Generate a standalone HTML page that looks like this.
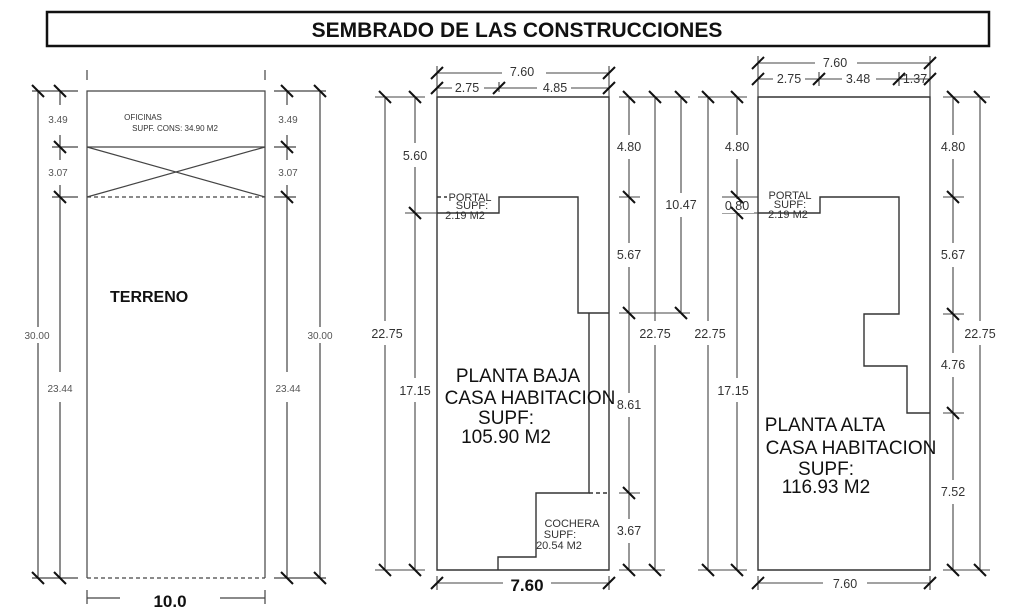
<!DOCTYPE html>
<html><head><meta charset="utf-8"><style>
html,body{margin:0;padding:0;background:#fff;width:1020px;height:611px;overflow:hidden}
svg{display:block}
text{font-family:"Liberation Sans",Arial,sans-serif;fill:#222}
.s{font-size:10px;fill:#555}
.m{font-size:12.5px;fill:#333}
.b{font-size:19px;fill:#111}
</style></head><body>
<svg width="1020" height="611" viewBox="0 0 1020 611" xmlns="http://www.w3.org/2000/svg">
<defs>
<g id="tv"><line x1="-6" y1="-6" x2="6" y2="6" stroke="#111" stroke-width="2"/></g>
<g id="th"><line x1="-6" y1="6" x2="6" y2="-6" stroke="#111" stroke-width="2"/></g>
</defs>
<g fill="none" stroke="#333" stroke-width="1.3">
<!-- title -->
<rect x="47" y="12" width="942" height="34" stroke="#111" stroke-width="2.5"/>
</g>
<text x="517" y="37" text-anchor="middle" style="font-size:21px;font-weight:bold;fill:#111">SEMBRADO DE LAS CONSTRUCCIONES</text>

<!-- TERRENO -->
<g fill="none" stroke="#444" stroke-width="1.2">
<path d="M87,578 V91 H265 V578"/>
<path d="M87,578 H265" stroke-dasharray="4,3"/>
<path d="M87,147 H265"/>
<path d="M87,197 H265" stroke-dasharray="4,3"/>
<path d="M87,147 L265,197 M87,197 L265,147"/>
<path d="M38,91 V578 M60,91 V578 M287,91 V578 M320,91 V578"/>
<path d="M32,91 H78 M52,147 H78 M52,197 H78 M32,578 H78"/>
<path d="M274,91 H326 M274,147 H296 M274,197 H296 M274,578 H326"/>
<path d="M87,598 H265 M87,590 V604 M265,590 V604 M87,70 V80 M265,70 V80"/>
</g>
<rect x="28" y="327" width="20" height="16" fill="#fff"/><rect x="308" y="327" width="24" height="16" fill="#fff"/>
<rect x="44" y="372" width="32" height="30" fill="#fff"/><rect x="272" y="372" width="32" height="30" fill="#fff"/>
<rect x="44" y="105" width="32" height="30" fill="#fff"/><rect x="272" y="105" width="32" height="30" fill="#fff"/>
<rect x="44" y="160" width="32" height="25" fill="#fff"/><rect x="272" y="160" width="32" height="25" fill="#fff"/>
<rect x="120" y="590" width="100" height="20" fill="#fff"/>
<g>
<use href="#tv" x="38" y="91"/><use href="#tv" x="60" y="91"/><use href="#tv" x="60" y="147"/><use href="#tv" x="60" y="197"/><use href="#tv" x="38" y="578"/><use href="#tv" x="60" y="578"/>
<use href="#tv" x="287" y="91"/><use href="#tv" x="320" y="91"/><use href="#tv" x="287" y="147"/><use href="#tv" x="287" y="197"/><use href="#tv" x="287" y="578"/><use href="#tv" x="320" y="578"/>
</g>
<text class="s" x="58" y="123" text-anchor="middle">3.49</text>
<text class="s" x="58" y="176" text-anchor="middle">3.07</text>
<text class="s" x="60" y="392" text-anchor="middle">23.44</text>
<text class="s" x="37" y="339" text-anchor="middle">30.00</text>
<text class="s" x="288" y="123" text-anchor="middle">3.49</text>
<text class="s" x="288" y="176" text-anchor="middle">3.07</text>
<text class="s" x="288" y="392" text-anchor="middle">23.44</text>
<text class="s" x="320" y="339" text-anchor="middle">30.00</text>
<text x="143" y="120" text-anchor="middle" style="font-size:8px;fill:#333">OFICINAS</text>
<text x="175" y="131" text-anchor="middle" style="font-size:8px;fill:#333">SUPF. CONS: 34.90 M2</text>
<text x="110" y="302" style="font-size:16px;font-weight:bold;fill:#111">TERRENO</text>
<text x="170" y="607" text-anchor="middle" style="font-size:17px;font-weight:bold;fill:#111">10.0</text>

<!-- PLANTA BAJA -->
<g fill="none" stroke="#333" stroke-width="1.4">
<path d="M437,570 V97 H609 V570 Z"/>
<path d="M437,213 H499 V197 H578 V313 H609 M589,313 V493 H536 V557 H498 V570"/>
<path d="M589,493 H609" stroke-dasharray="4,3"/>
<path d="M437,197 H447" stroke-dasharray="4,3"/>
</g>
<g fill="none" stroke="#444" stroke-width="1.1">
<path d="M385,97 V570 M415,97 V570 M629,97 V570 M655,97 V570 M681,97 V313"/>
<path d="M375,97 H425 M405,213 H437 M375,570 H425"/>
<path d="M619,97 H690 M619,197 H640 M619,313 H690 M619,493 H640 M619,570 H665"/>
<path d="M437,73 H609 M437,88 H609 M437,66 V97 M609,66 V97 M499,82 V92"/>
<path d="M437,583 H609 M437,576 V590 M609,576 V590"/>
</g>
<rect x="398" y="143" width="34" height="24" fill="#fff"/><rect x="398" y="378" width="34" height="24" fill="#fff"/>
<rect x="369" y="321" width="36" height="24" fill="#fff"/>
<rect x="612" y="135" width="34" height="24" fill="#fff"/><rect x="612" y="243" width="34" height="24" fill="#fff"/>
<rect x="612" y="393" width="34" height="24" fill="#fff"/><rect x="612" y="519" width="34" height="24" fill="#fff"/>
<rect x="636" y="321" width="38" height="24" fill="#fff"/><rect x="662" y="193" width="38" height="24" fill="#fff"/>
<rect x="502" y="64" width="44" height="16" fill="#fff"/><rect x="452" y="80" width="32" height="16" fill="#fff"/><rect x="537" y="80" width="34" height="16" fill="#fff"/>
<rect x="503" y="574" width="48" height="20" fill="#fff"/>
<g>
<use href="#tv" x="385" y="97"/><use href="#tv" x="415" y="97"/><use href="#tv" x="415" y="213"/><use href="#tv" x="385" y="570"/><use href="#tv" x="415" y="570"/>
<use href="#tv" x="629" y="97"/><use href="#tv" x="655" y="97"/><use href="#tv" x="681" y="97"/><use href="#tv" x="629" y="197"/><use href="#tv" x="629" y="313"/><use href="#tv" x="681" y="313"/><use href="#tv" x="629" y="493"/><use href="#tv" x="629" y="570"/><use href="#tv" x="655" y="570"/>
<use href="#th" x="437" y="73"/><use href="#th" x="609" y="73"/><use href="#th" x="437" y="88"/><use href="#th" x="499" y="88"/><use href="#th" x="609" y="88"/>
<use href="#th" x="437" y="583"/><use href="#th" x="609" y="583"/>
</g>
<text class="m" x="415" y="160" text-anchor="middle">5.60</text>
<text class="m" x="415" y="395" text-anchor="middle">17.15</text>
<text class="m" x="387" y="338" text-anchor="middle">22.75</text>
<text class="m" x="629" y="151" text-anchor="middle">4.80</text>
<text class="m" x="629" y="259" text-anchor="middle">5.67</text>
<text class="m" x="629" y="409" text-anchor="middle">8.61</text>
<text class="m" x="629" y="535" text-anchor="middle">3.67</text>
<text class="m" x="655" y="338" text-anchor="middle">22.75</text>
<text class="m" x="681" y="209" text-anchor="middle">10.47</text>
<text class="m" x="522" y="76" text-anchor="middle">7.60</text>
<text class="m" x="467" y="92" text-anchor="middle">2.75</text>
<text class="m" x="555" y="92" text-anchor="middle">4.85</text>
<text x="527" y="591" text-anchor="middle" style="font-size:17px;font-weight:bold;fill:#111">7.60</text>
<text x="470" y="201" text-anchor="middle" style="font-size:11px;fill:#333">PORTAL</text>
<text x="472" y="209" text-anchor="middle" style="font-size:11px;fill:#333">SUPF:</text>
<text x="465" y="219" text-anchor="middle" style="font-size:11px;fill:#333">2.19 M2</text>
<text x="572" y="527" text-anchor="middle" style="font-size:11px;fill:#333">COCHERA</text>
<text x="560" y="538" text-anchor="middle" style="font-size:11px;fill:#333">SUPF:</text>
<text x="559" y="549" text-anchor="middle" style="font-size:11px;fill:#333">20.54 M2</text>
<text class="b" x="518" y="382" text-anchor="middle">PLANTA BAJA</text>
<text class="b" x="530" y="404" text-anchor="middle">CASA HABITACION</text>
<text class="b" x="506" y="424" text-anchor="middle">SUPF:</text>
<text class="b" x="506" y="443" text-anchor="middle">105.90 M2</text>

<!-- PLANTA ALTA -->
<g fill="none" stroke="#333" stroke-width="1.4">
<path d="M758,570 V97 H930 V570 Z"/>
<path d="M758,213 H820 V197 H899 V314 H864 V366 H907 V413 H930"/>
</g>
<g fill="none" stroke="#444" stroke-width="1.1">
<path d="M708,97 V570 M737,97 V570 M953,97 V570 M980,97 V570"/>
<path d="M698,97 H747 M722,197 H758 M722,213 H758 M698,570 H747"/>
<path d="M943,97 H990 M943,197 H964 M943,314 H964 M943,413 H964 M943,570 H990"/>
<path d="M758,63 H930 M758,79 H930 M758,56 V97 M930,56 V97 M819,72 V86 M899,72 V86"/>
<path d="M758,583 H930 M758,576 V590 M930,576 V590"/>
</g>
<rect x="691" y="321" width="36" height="24" fill="#fff"/>
<rect x="720" y="135" width="34" height="24" fill="#fff"/><rect x="720" y="199" width="34" height="14" fill="#fff"/><rect x="716" y="378" width="36" height="24" fill="#fff"/>
<rect x="936" y="135" width="34" height="24" fill="#fff"/><rect x="936" y="243" width="34" height="24" fill="#fff"/>
<rect x="936" y="353" width="34" height="24" fill="#fff"/><rect x="936" y="480" width="34" height="24" fill="#fff"/>
<rect x="961" y="321" width="38" height="24" fill="#fff"/>
<rect x="815" y="55" width="42" height="16" fill="#fff"/><rect x="773" y="71" width="32" height="16" fill="#fff"/><rect x="842" y="71" width="34" height="16" fill="#fff"/>
<rect x="823" y="576" width="44" height="16" fill="#fff"/>
<g>
<use href="#tv" x="708" y="97"/><use href="#tv" x="737" y="97"/><use href="#tv" x="737" y="197"/><use href="#tv" x="737" y="213"/><use href="#tv" x="708" y="570"/><use href="#tv" x="737" y="570"/>
<use href="#tv" x="953" y="97"/><use href="#tv" x="980" y="97"/><use href="#tv" x="953" y="197"/><use href="#tv" x="953" y="314"/><use href="#tv" x="953" y="413"/><use href="#tv" x="953" y="570"/><use href="#tv" x="980" y="570"/>
<use href="#th" x="758" y="63"/><use href="#th" x="930" y="63"/><use href="#th" x="758" y="79"/><use href="#th" x="819" y="79"/><use href="#th" x="899" y="79"/><use href="#th" x="930" y="79"/>
<use href="#th" x="758" y="583"/><use href="#th" x="930" y="583"/>
</g>
<text class="m" x="710" y="338" text-anchor="middle">22.75</text>
<text class="m" x="737" y="151" text-anchor="middle">4.80</text>
<text class="m" x="737" y="210" text-anchor="middle">0.80</text>
<text class="m" x="733" y="395" text-anchor="middle">17.15</text>
<text class="m" x="953" y="151" text-anchor="middle">4.80</text>
<text class="m" x="953" y="259" text-anchor="middle">5.67</text>
<text class="m" x="953" y="369" text-anchor="middle">4.76</text>
<text class="m" x="953" y="496" text-anchor="middle">7.52</text>
<text class="m" x="980" y="338" text-anchor="middle">22.75</text>
<text class="m" x="835" y="67" text-anchor="middle">7.60</text>
<text class="m" x="789" y="83" text-anchor="middle">2.75</text>
<text class="m" x="858" y="83" text-anchor="middle">3.48</text>
<text class="m" x="915" y="83" text-anchor="middle">1.37</text>
<text class="m" x="845" y="588" text-anchor="middle">7.60</text>
<text x="790" y="199" text-anchor="middle" style="font-size:11px;fill:#333">PORTAL</text>
<text x="790" y="208" text-anchor="middle" style="font-size:11px;fill:#333">SUPF:</text>
<text x="788" y="218" text-anchor="middle" style="font-size:11px;fill:#333">2.19 M2</text>
<text class="b" x="825" y="431" text-anchor="middle">PLANTA ALTA</text>
<text class="b" x="851" y="454" text-anchor="middle">CASA HABITACION</text>
<text class="b" x="826" y="475" text-anchor="middle">SUPF:</text>
<text class="b" x="826" y="493" text-anchor="middle">116.93 M2</text>
</svg>
</body></html>
